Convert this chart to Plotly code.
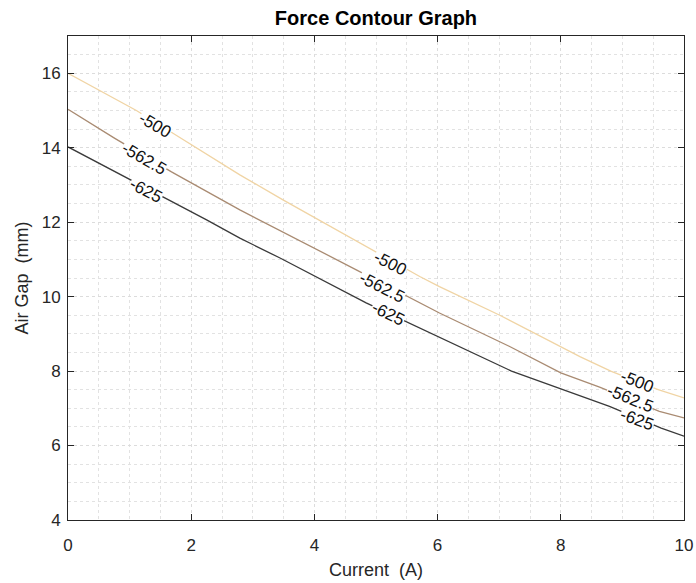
import plotly.graph_objects as go

# Contour levels and their line data
levels = [-500, -562.5, -625]
level_labels = ["-500", "-562.5", "-625"]
level_colors = ["#f0d4a4", "#a98b72", "#3a3a3a"]

x_500 = [0, 1.11, 1.73, 2.79, 3.49, 4.57, 4.93, 5.71, 6.03, 7.01, 8.31, 8.82, 9.58, 10]
y_500 = [16, 15.0, 14.36, 13.27, 12.6, 11.6, 11.25, 10.54, 10.27, 9.5, 8.39, 7.99, 7.5, 7.28]

x_5625 = [0, 0.76, 1.68, 2.79, 4.68, 5.71, 6.03, 7.17, 8.0, 8.63, 9.6, 10]
y_5625 = [15.03, 14.25, 13.35, 12.33, 10.72, 9.83, 9.56, 8.66, 7.95, 7.57, 6.92, 6.74]

x_625 = [0, 0.92, 1.62, 2.25, 2.79, 3.45, 4.84, 5.71, 7.2, 8.79, 9.63, 10]
y_625 = [14.02, 13.22, 12.6, 12.06, 11.57, 11.03, 9.83, 9.16, 8.0, 7.05, 6.47, 6.25]

line_x = [x_500, x_5625, x_625]
line_y = [y_500, y_5625, y_625]

# Inline contour label positions (x, y, angle) per level
label_x = [[1.42, 5.23, 9.23], [1.23, 5.10, 9.12], [1.26, 5.19, 9.23]]
label_y = [[14.6, 10.88, 7.71], [13.71, 10.25, 7.26], [12.86, 9.54, 6.70]]
label_angle = [[30, 27, 22], [30, 27, 22], [28, 26, 20]]

FONT = "Liberation Sans, Arial, Helvetica, sans-serif"

fig = go.Figure()
for xs, ys, col, lab in zip(line_x, line_y, level_colors, level_labels):
    fig.add_trace(go.Scatter(x=xs, y=ys, mode="lines", line=dict(color=col, width=1.3),
                             name=lab, showlegend=False, hoverinfo="skip"))

for lab, lxs, lys, angs in zip(level_labels, label_x, label_y, label_angle):
    for lx, ly, ang in zip(lxs, lys, angs):
        fig.add_annotation(x=lx, y=ly, text=lab, showarrow=False, textangle=ang,
                           font=dict(family=FONT, size=17, color="#111111"),
                           bgcolor="white", borderpad=0)

axis_common = dict(
    showline=True, linecolor="#262626", linewidth=1, mirror="ticks",
    ticks="inside", ticklen=6, tickcolor="#262626", tickwidth=1,
    showgrid=True, gridcolor="#dcdcdc", griddash="dot", gridwidth=1,
    zeroline=False, automargin=False,
    tickfont=dict(family=FONT, size=17, color="#262626"),
    minor=dict(dtick=0.5, showgrid=True, gridcolor="#e2e2e2", griddash="dot", ticks=""),
)

fig.update_xaxes(range=[0, 10], dtick=2, tick0=0, ticklabelstandoff=10,
                 title=dict(text="Current\u00a0\u00a0(A)", standoff=8,
                            font=dict(family=FONT, size=18, color="#262626")),
                 **axis_common)
fig.update_yaxes(range=[4, 17], dtick=2, tick0=4, ticklabelstandoff=3,
                 title=dict(text="Air Gap\u00a0\u00a0(mm)", standoff=8,
                            font=dict(family=FONT, size=18, color="#262626")),
                 **axis_common)

fig.update_layout(
    width=696, height=583,
    margin=dict(l=68, r=12, t=36, b=63),
    paper_bgcolor="white", plot_bgcolor="white",
    title=dict(text="<b>Force Contour Graph</b>", x=0.5402, xanchor="center", y=0.981, yanchor="top",
               font=dict(family=FONT, size=20, color="#000000")),
)

# Remove the page's default body margin so the figure fills the window exactly.
fig.write_html("out.html", config={"displayModeBar": False},
               post_script="document.body.style.margin='0';document.body.style.overflow='hidden';")
